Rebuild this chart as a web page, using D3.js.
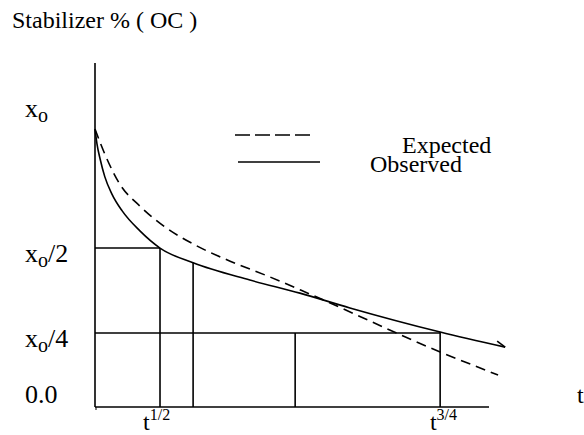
<!DOCTYPE html>
<html>
<head>
<meta charset="utf-8">
<script src="https://cdn.jsdelivr.net/npm/d3@7"></script>
<style>
  body { margin: 0; background: #fff; }
</style>
</head>
<body>
<svg id="chart" width="584" height="435" font-family="'Liberation Serif', 'Times New Roman', Times, serif"></svg>
<script>
// time is % of axis length, stabilizer is % of axis height (sketch, not to scale)
var observedT = [0, 0.5, 1.3, 2.5, 4.3, 6.9, 11.4, 16.5, 24.9, 39.3, 52.0, 64.7, 87.6, 104.1];
var observedY = [80.8, 76.5, 72.1, 66.9, 61.9, 57.0, 51.2, 46.2, 41.9, 36.9, 33.1, 28.8, 21.8, 17.4];
var expectedT = [0, 2.5, 6.3, 11.4, 17.8, 25.4, 34.3, 44.4, 54.6, 87.6, 102.3];
var expectedY = [80.8, 73.5, 64.8, 58.4, 52.3, 47.1, 42.4, 37.8, 32.8, 16.0, 9.3];

// drop lines for half life and 3/4 life
var hGuideY  = [46.2, 21.5];
var hGuideT1 = [16.5, 87.6];
var vGuideT  = [16.5, 24.9, 50.8, 87.6];
var vGuideY  = [46.2, 41.9, 21.5, 21.8];

var yLabelBase = ["x", "x", "x", "0.0"];
var yLabelSub  = ["o", "o", "o", ""];
var yLabelTail = ["", "/2", "/4", ""];
var yLabelAt   = [84.3, 42.2, 17.4, 1.2];

var xLabelBase = ["t", "t"];
var xLabelSup  = ["1/2", "3/4"];
var xLabelAt   = [12.2, 85.0];

var legendNames = ["Expected", "Observed"];

var svg = d3.select("#chart");

var x = d3.scaleLinear().domain([0, 100]).range([95, 489]);
var y = d3.scaleLinear().domain([0, 100]).range([407, 63]);

// axes
svg.append("line")
  .attr("x1", x(0)).attr("x2", x(0)).attr("y1", y(0)).attr("y2", y(100))
  .attr("stroke", "#000").attr("stroke-width", 1.6);
svg.append("line")
  .attr("x1", x(0)).attr("x2", x(100)).attr("y1", y(0)).attr("y2", y(0))
  .attr("stroke", "#000").attr("stroke-width", 1.6);
svg.append("line")
  .attr("x1", x(0) + 1).attr("x2", x(0) + 1).attr("y1", y(0)).attr("y2", y(0) + 3)
  .attr("stroke", "#000").attr("stroke-width", 1);

// guides
svg.selectAll("line.hg").data(hGuideY).enter().append("line")
  .attr("class", "hg")
  .attr("x1", x(0))
  .attr("x2", function(d, i) { return x(hGuideT1[i]); })
  .attr("y1", function(d) { return y(d); })
  .attr("y2", function(d) { return y(d); })
  .attr("stroke", "#000").attr("stroke-width", 1.6);

svg.selectAll("line.vg").data(vGuideT).enter().append("line")
  .attr("class", "vg")
  .attr("x1", function(d) { return x(d); })
  .attr("x2", function(d) { return x(d); })
  .attr("y1", y(0))
  .attr("y2", function(d, i) { return y(vGuideY[i]); })
  .attr("stroke", "#000").attr("stroke-width", 1.6);

// curves
var line = d3.line()
  .x(function(d) { return x(d[0]); })
  .y(function(d) { return y(d[1]); })
  .curve(d3.curveMonotoneX);

var obs = d3.zip(observedT, observedY);
var exp = d3.zip(expectedT, expectedY);

svg.append("path").datum(exp)
  .attr("d", line)
  .attr("fill", "none").attr("stroke", "#000").attr("stroke-width", 1.6)
  .attr("stroke-dasharray", "10,6");

svg.append("path").datum(obs)
  .attr("d", line)
  .attr("fill", "none").attr("stroke", "#000").attr("stroke-width", 1.6);

// little hook at the end of the observed curve
var endP = obs[obs.length - 1];
svg.append("path")
  .attr("d", "M" + x(endP[0]) + "," + y(endP[1]) + "l-8,-6")
  .attr("fill", "none").attr("stroke", "#000").attr("stroke-width", 1.6);

// y labels
var yl = svg.selectAll("text.yl").data(yLabelBase).enter().append("text")
  .attr("class", "yl")
  .attr("x", 25)
  .attr("y", function(d, i) { return y(yLabelAt[i]); })
  .style("font-size", "26px");
yl.append("tspan").text(function(d) { return d; });
yl.append("tspan")
  .attr("dy", 5).style("font-size", "20px")
  .text(function(d, i) { return yLabelSub[i]; });
yl.append("tspan")
  .attr("dy", -5)
  .text(function(d, i) { return yLabelTail[i]; });

// x labels
var xl = svg.selectAll("text.xl").data(xLabelBase).enter().append("text")
  .attr("class", "xl")
  .attr("x", function(d, i) { return x(xLabelAt[i]); })
  .attr("y", 430)
  .style("font-size", "24px");
xl.append("tspan").text(function(d) { return d; });
xl.append("tspan")
  .attr("dy", -10).style("font-size", "16px")
  .text(function(d, i) { return xLabelSup[i]; });

svg.append("text").attr("x", 577).attr("y", 403)
  .style("font-size", "24px").text("t");

// title
svg.append("text").attr("x", 12).attr("y", 28)
  .style("font-size", "24px").text("Stabilizer % ( OC )");

// legend
svg.append("line").attr("x1", 235).attr("x2", 310).attr("y1", 135).attr("y2", 135)
  .attr("stroke", "#000").attr("stroke-width", 1.6).attr("stroke-dasharray", "15,5");
svg.append("line").attr("x1", 238).attr("x2", 320).attr("y1", 162).attr("y2", 162)
  .attr("stroke", "#000").attr("stroke-width", 1.6);
svg.selectAll("text.lg").data(legendNames).enter().append("text")
  .attr("class", "lg")
  .attr("x", function(d, i) { return i === 0 ? 402 : 370; })
  .attr("y", function(d, i) { return i === 0 ? 153 : 172; })
  .style("font-size", "24px")
  .text(function(d) { return d; });
</script>
</body>
</html>
